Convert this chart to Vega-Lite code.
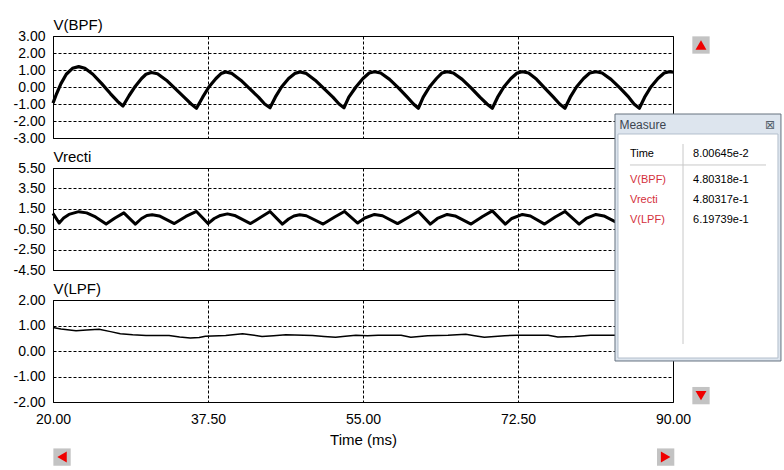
{
  "$schema": "https://vega.github.io/schema/vega-lite/v6.json",
  "background": "white",
  "padding": {"left": 12, "top": 16, "right": 4, "bottom": 4},
  "bounds": "flush",
  "spacing": 30,
  "config": {
    "font": "Liberation Sans",
    "view": {"stroke": "black", "strokeWidth": 1},
    "axis": {
      "domain": false, "ticks": false, "grid": true, "gridColor": "black", "gridDash": [3, 2],
      "gridOpacity": 1, "gridWidth": 1, "labelFont": "Liberation Sans", "labelFontSize": 14,
      "labelColor": "black", "labelFlush": false, "labelOverlap": false,
      "titleFont": "Liberation Sans", "titleFontSize": 15, "titleFontWeight": "normal", "titleColor": "black"
    },
    "axisY": {"titleAngle": 0, "titleX": 0, "titleY": -7, "titleAlign": "left", "titleBaseline": "alphabetic", "labelPadding": 8}
  },
  "datasets": {
    "bpf": [
      {"t":20,"v":-0.95},{"t":20.4,"v":-0.4},{"t":20.9,"v":0.2},{"t":21.5,"v":0.75},{"t":22.2,"v":1.1},{"t":22.9,"v":1.2},{"t":23.6,"v":1.1},{"t":24.5,"v":0.75},{"t":25.5,"v":0.2},{"t":26.5,"v":-0.4},{"t":27.3,"v":-0.85},{"t":27.9,"v":-1.12},
      {"t":28.6,"v":-0.5},{"t":29.3,"v":0.05},{"t":30.0,"v":0.5},{"t":30.5,"v":0.75},{"t":31.1,"v":0.85},{"t":31.8,"v":0.78},{"t":32.8,"v":0.4},{"t":33.8,"v":-0.1},{"t":34.8,"v":-0.6},{"t":35.6,"v":-1.0},{"t":36.2,"v":-1.25},
      {"t":36.9,"v":-0.6},{"t":37.6,"v":0.0},{"t":38.4,"v":0.5},{"t":39.0,"v":0.8},{"t":39.5,"v":0.88},{"t":40.2,"v":0.8},{"t":41.2,"v":0.4},{"t":42.2,"v":-0.1},{"t":43.2,"v":-0.6},{"t":43.9,"v":-1.0},{"t":44.5,"v":-1.22},
      {"t":45.1,"v":-0.6},{"t":45.8,"v":0.0},{"t":46.6,"v":0.5},{"t":47.3,"v":0.8},{"t":47.9,"v":0.88},{"t":48.6,"v":0.8},{"t":49.6,"v":0.4},{"t":50.6,"v":-0.1},{"t":51.6,"v":-0.6},{"t":52.3,"v":-1.0},{"t":52.85,"v":-1.22},
      {"t":53.4,"v":-0.6},{"t":54.2,"v":0.0},{"t":55.0,"v":0.5},{"t":55.7,"v":0.82},{"t":56.3,"v":0.9},{"t":57.0,"v":0.82},{"t":58.0,"v":0.45},{"t":59.0,"v":-0.05},{"t":60.0,"v":-0.6},{"t":60.7,"v":-1.0},{"t":61.25,"v":-1.25},
      {"t":61.8,"v":-0.6},{"t":62.5,"v":0.0},{"t":63.3,"v":0.5},{"t":63.9,"v":0.82},{"t":64.5,"v":0.9},{"t":65.2,"v":0.82},{"t":66.2,"v":0.45},{"t":67.2,"v":-0.05},{"t":68.2,"v":-0.6},{"t":69.0,"v":-1.0},{"t":69.6,"v":-1.25},
      {"t":70.2,"v":-0.6},{"t":70.9,"v":0.0},{"t":71.7,"v":0.5},{"t":72.4,"v":0.82},{"t":73.0,"v":0.9},{"t":73.7,"v":0.82},{"t":74.6,"v":0.45},{"t":75.5,"v":-0.05},{"t":76.5,"v":-0.6},{"t":77.2,"v":-1.0},{"t":77.8,"v":-1.25},
      {"t":78.4,"v":-0.6},{"t":79.1,"v":0.0},{"t":79.9,"v":0.5},{"t":80.6,"v":0.82},{"t":81.3,"v":0.9},{"t":82.0,"v":0.82},{"t":83.0,"v":0.45},{"t":84.0,"v":-0.05},{"t":85.0,"v":-0.6},{"t":85.6,"v":-1.0},{"t":86.2,"v":-1.25},
      {"t":86.8,"v":-0.6},{"t":87.5,"v":0.0},{"t":88.3,"v":0.5},{"t":89.0,"v":0.82},{"t":89.6,"v":0.9},{"t":90.0,"v":0.88}
    ],
    "recti": [
      {"t":20.0,"v":1.05},{"t":20.7,"v":0.1},{"t":21.2,"v":0.6},{"t":21.8,"v":0.95},{"t":22.9,"v":1.22},{"t":23.8,"v":1.1},{"t":24.8,"v":0.7},{"t":26.0,"v":0.0},{"t":27.0,"v":0.6},{"t":28.0,"v":1.1},
      {"t":29.3,"v":0.0},{"t":30.0,"v":0.55},{"t":30.6,"v":0.85},{"t":31.2,"v":0.92},{"t":32.0,"v":0.8},{"t":33.7,"v":0.05},{"t":35.0,"v":0.75},{"t":36.2,"v":1.24},
      {"t":37.5,"v":0.05},{"t":38.2,"v":0.55},{"t":38.9,"v":0.85},{"t":39.7,"v":1.0},{"t":40.5,"v":0.85},{"t":42.3,"v":0.05},{"t":43.5,"v":0.7},{"t":44.5,"v":1.24},
      {"t":45.9,"v":0.0},{"t":46.6,"v":0.5},{"t":47.2,"v":0.8},{"t":47.85,"v":0.92},{"t":48.6,"v":0.82},{"t":50.5,"v":0.0},{"t":51.8,"v":0.7},{"t":52.9,"v":1.24},
      {"t":54.4,"v":0.1},{"t":55.2,"v":0.6},{"t":56.3,"v":0.95},{"t":57.2,"v":0.82},{"t":58.9,"v":0.05},{"t":60.2,"v":0.7},{"t":61.25,"v":1.24},
      {"t":62.6,"v":0.0},{"t":63.4,"v":0.55},{"t":64.5,"v":0.95},{"t":65.4,"v":0.8},{"t":67.2,"v":0.0},{"t":68.5,"v":0.75},{"t":69.6,"v":1.3},
      {"t":71.07,"v":0.0},{"t":71.8,"v":0.55},{"t":73.0,"v":0.95},{"t":73.9,"v":0.8},{"t":75.5,"v":0.0},{"t":76.7,"v":0.7},{"t":77.8,"v":1.24},
      {"t":79.4,"v":0.0},{"t":80.2,"v":0.55},{"t":81.3,"v":0.95},{"t":82.2,"v":0.8},{"t":84.0,"v":0.0},{"t":85.2,"v":0.7},{"t":86.2,"v":1.24},
      {"t":87.6,"v":0.0},{"t":88.4,"v":0.55},{"t":89.3,"v":0.9},{"t":90.0,"v":0.88}
    ],
    "lpf": [
      {"t":20.0,"v":0.92},{"t":20.9,"v":0.86},{"t":22.6,"v":0.79},{"t":23.8,"v":0.82},{"t":25.2,"v":0.85},{"t":26.5,"v":0.76},{"t":27.6,"v":0.68},{"t":29.0,"v":0.64},{"t":30.5,"v":0.61},{"t":33.1,"v":0.61},
      {"t":34.3,"v":0.55},{"t":35.5,"v":0.51},{"t":36.5,"v":0.53},{"t":37.2,"v":0.58},{"t":39.5,"v":0.61},{"t":41.4,"v":0.68},{"t":42.5,"v":0.63},{"t":43.6,"v":0.57},{"t":44.9,"v":0.6},{"t":46.3,"v":0.64},
      {"t":49.3,"v":0.61},{"t":50.6,"v":0.57},{"t":51.9,"v":0.54},{"t":53.0,"v":0.58},{"t":54.2,"v":0.62},{"t":55.5,"v":0.6},{"t":56.7,"v":0.62},{"t":59.3,"v":0.62},{"t":60.4,"v":0.54},{"t":62.3,"v":0.6},
      {"t":64.6,"v":0.62},{"t":66.6,"v":0.66},{"t":67.6,"v":0.6},{"t":68.7,"v":0.54},{"t":71.0,"v":0.6},{"t":72.5,"v":0.62},{"t":75.9,"v":0.62},{"t":77.0,"v":0.55},{"t":78.9,"v":0.57},{"t":80.7,"v":0.62},
      {"t":83.4,"v":0.62},{"t":85.0,"v":0.6},{"t":86.5,"v":0.57},{"t":88.0,"v":0.62},{"t":90.0,"v":0.68}
    ],
    "btnTop": [{"t": 93.16, "v": 2.47, "dir": "up"}],
    "btnBottom": [
      {"t": 93.16, "v": -1.75, "dir": "down"},
      {"t": 21.02, "v": -4.16, "dir": "left"},
      {"t": 89.17, "v": -4.16, "dir": "right"}
    ],
    "winFrame": [{"t": 83.45, "t2": 102.19, "v": 9.294, "v2": -0.392}],
    "winBody": [{"t": 83.79, "t2": 101.85, "v": 8.51, "v2": -0.275}],
    "winTitle": [{"t": 83.95, "v": 8.86, "text": "Measure"}],
    "winClose": [{"t": 100.95, "v": 8.86, "text": "⊠"}],
    "winHLine": [{"t": 85.14, "t2": 100.5, "v": 7.295}],
    "winVLine": [{"t": 91.13, "v": 8.118, "v2": 0.274}],
    "measure": [
      {"t": 85.14, "v": 7.726, "text": "Time", "role": "header"},
      {"t": 92.26, "v": 7.726, "text": "8.00645e-2", "role": "value"},
      {"t": 85.14, "v": 6.706, "text": "V(BPF)", "role": "signal"},
      {"t": 92.26, "v": 6.706, "text": "4.80318e-1", "role": "value"},
      {"t": 85.14, "v": 5.922, "text": "Vrecti", "role": "signal"},
      {"t": 92.26, "v": 5.922, "text": "4.80317e-1", "role": "value"},
      {"t": 85.14, "v": 5.137, "text": "V(LPF)", "role": "signal"},
      {"t": 92.26, "v": 5.137, "text": "6.19739e-1", "role": "value"}
    ]
  },
  "vconcat": [
    {
      "width": 620, "height": 102,
      "encoding": {
        "x": {"field": "t", "type": "quantitative", "scale": {"domain": [20, 90], "nice": false, "zero": false}, "axis": {"values": [20, 37.5, 55, 72.5, 90], "labels": false, "title": null}},
        "y": {"field": "v", "type": "quantitative", "scale": {"domain": [-3, 3], "nice": false, "zero": false}, "axis": {"values": [-3, -2, -1, 0, 1, 2, 3], "labelExpr": "replace(format(datum.value, '.2f'), '\u2212', '-')", "title": "V(BPF)"}}
      },
      "layer": [
        {
          "data": {"name": "bpf"},
          "mark": {"type": "line", "color": "black", "strokeWidth": 3.2, "strokeJoin": "round"}
        },
        {
          "data": {"name": "btnTop"},
          "mark": {"type": "point", "shape": "square", "filled": true, "size": 300, "color": "#c3c3c3", "opacity": 1}
        },
        {
          "data": {"name": "btnTop"},
          "mark": {"type": "point", "shape": "triangle-up", "filled": true, "size": 120, "color": "#f00000", "opacity": 1}
        }
      ]
    },
    {
      "width": 620, "height": 102,
      "encoding": {
        "x": {"field": "t", "type": "quantitative", "scale": {"domain": [20, 90], "nice": false, "zero": false}, "axis": {"values": [20, 37.5, 55, 72.5, 90], "labels": false, "title": null}},
        "y": {"field": "v", "type": "quantitative", "scale": {"domain": [-4.5, 5.5], "nice": false, "zero": false}, "axis": {"values": [-4.5, -2.5, -0.5, 1.5, 3.5, 5.5], "labelExpr": "replace(format(datum.value, '.2f'), '\u2212', '-')", "title": "Vrecti"}}
      },
      "layer": [
        {
          "data": {"name": "recti"},
          "mark": {"type": "line", "color": "black", "strokeWidth": 3, "strokeJoin": "round"}
        }
      ]
    },
    {
      "width": 620, "height": 102,
      "encoding": {
        "x": {"field": "t", "type": "quantitative", "scale": {"domain": [20, 90], "nice": false, "zero": false}, "axis": {"values": [20, 37.5, 55, 72.5, 90], "format": ".2f", "labelPadding": 10, "title": "Time (ms)", "titlePadding": 6}},
        "y": {"field": "v", "type": "quantitative", "scale": {"domain": [-2, 2], "nice": false, "zero": false}, "axis": {"values": [-2, -1, 0, 1, 2], "labelExpr": "replace(format(datum.value, '.2f'), '\u2212', '-')", "title": "V(LPF)"}}
      },
      "layer": [
        {
          "data": {"name": "lpf"},
          "mark": {"type": "line", "color": "black", "strokeWidth": 1.5, "strokeJoin": "round"}
        },
        {
          "data": {"name": "btnBottom"},
          "mark": {"type": "point", "shape": "square", "filled": true, "size": 300, "color": "#c3c3c3", "opacity": 1}
        },
        {
          "data": {"name": "btnBottom"},
          "mark": {"type": "point", "filled": true, "size": 120, "color": "#f00000", "opacity": 1},
          "encoding": {
            "shape": {"field": "dir", "type": "nominal", "scale": {"domain": ["down", "left", "right"], "range": ["triangle-down", "triangle-left", "triangle-right"]}, "legend": null}
          }
        },
        {
          "data": {"name": "winFrame"},
          "mark": {"type": "rect", "fill": "#dde5ee", "stroke": "#66727f", "strokeWidth": 1},
          "encoding": {"x2": {"field": "t2"}, "y2": {"field": "v2"}}
        },
        {
          "data": {"name": "winBody"},
          "mark": {"type": "rect", "fill": "white", "stroke": "#b4bfcc", "strokeWidth": 1},
          "encoding": {"x2": {"field": "t2"}, "y2": {"field": "v2"}}
        },
        {
          "data": {"name": "winHLine"},
          "mark": {"type": "rule", "color": "#c8c8c8", "strokeWidth": 1},
          "encoding": {"x2": {"field": "t2"}}
        },
        {
          "data": {"name": "winVLine"},
          "mark": {"type": "rule", "color": "#c8c8c8", "strokeWidth": 1},
          "encoding": {"y2": {"field": "v2"}}
        },
        {
          "data": {"name": "winTitle"},
          "mark": {"type": "text", "align": "left", "baseline": "middle", "fontSize": 12, "font": "Liberation Sans", "color": "#3c4550"},
          "encoding": {"text": {"field": "text"}}
        },
        {
          "data": {"name": "winClose"},
          "mark": {"type": "text", "align": "center", "baseline": "middle", "fontSize": 12, "font": "DejaVu Sans", "color": "#55606c"},
          "encoding": {"text": {"field": "text"}}
        },
        {
          "data": {"name": "measure"},
          "mark": {"type": "text", "align": "left", "baseline": "middle", "fontSize": 11, "font": "Liberation Sans"},
          "encoding": {
            "text": {"field": "text"},
            "color": {"field": "role", "type": "nominal", "scale": {"domain": ["header", "signal", "value"], "range": ["#000000", "#d42f3b", "#000000"]}, "legend": null}
          }
        }
      ]
    }
  ]
}
